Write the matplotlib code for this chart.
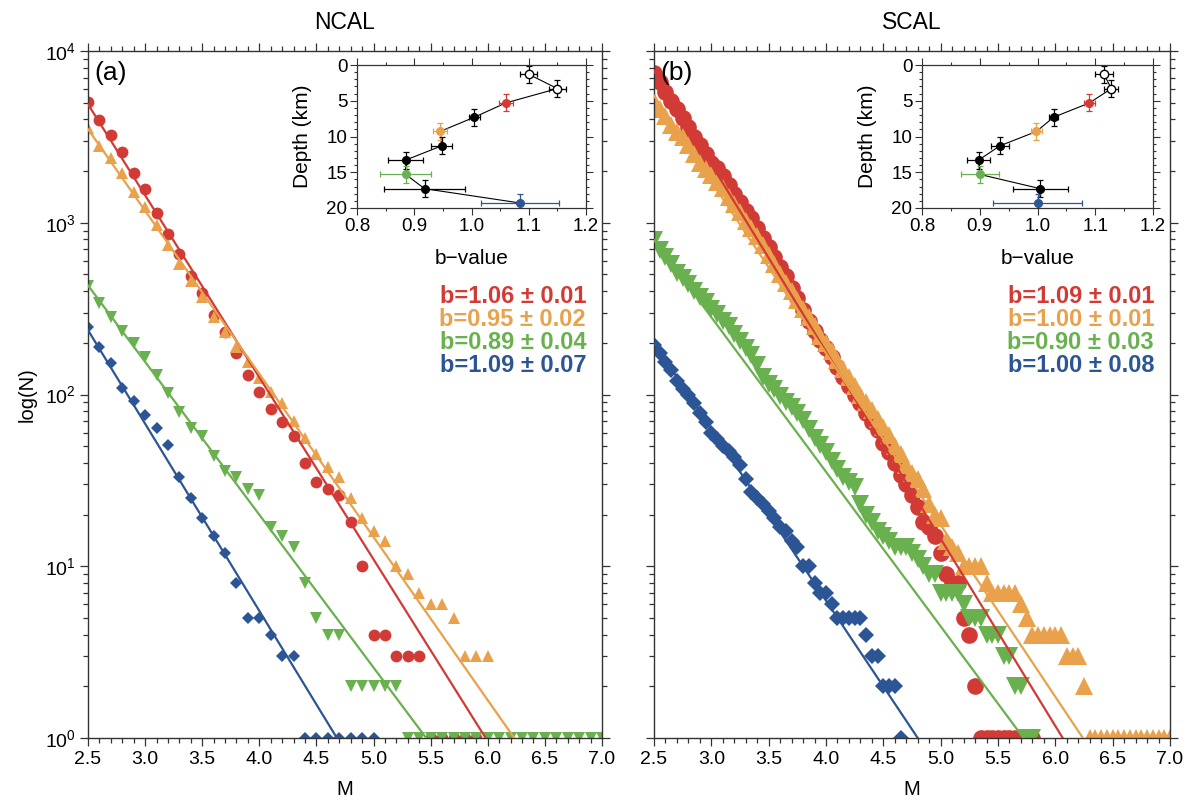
import matplotlib.pyplot as plt
import numpy as np
from matplotlib.ticker import MultipleLocator, LogLocator, NullFormatter

plt.rcParams["font.family"] = ["Liberation Sans", "DejaVu Sans"]
plt.rcParams["mathtext.default"] = "regular"

RED = "#d23a35"
ORANGE = "#e9a14b"
GREEN = "#69b04f"
BLUE = "#2c5596"

colors = [RED, ORANGE, GREEN, BLUE]
markers = ["o", "^", "v", "D"]

# NCAL cumulative counts N(>=M), bins of 0.1 starting at M2.5
ncal_red = [5070, 3963, 3228, 2582, 1954, 1578, 1135, 859, 658, 490,
            388, 289, 230, 174, 130, 104, 82, 69, 57, 40,
            31, 28, 26, 18, 10, 4, 4, 3, 3, 3,
            1, 1, 1, 1, 1]
ncal_orange = [3548, 2800, 2371, 1941, 1517, 1239, 970, 741, 575, 457,
               371, 284, 232, 188, 155, 124, 104, 89, 70, 56,
               45, 38, 33, 25, 19, 16, 14, 10, 9, 7,
               6, 6, 5, 3, 3, 3, 1, 1, 1, 1]
ncal_green = [429, 342, 284, 235, 199, 166, 130, 102, 79, 64,
              57, 44, 36, 33, 28, 26, 17, 15, 13, 8,
              5, 4, 4, 2, 2, 2, 2, 2, 1, 1,
              1, 1, 1, 1, 1, 1, 1, 1, 1, 1,
              1, 1, 1, 1, 1, 1]
ncal_blue = [248, 188, 152, 109, 92, 76, 64, 51, 33, 25,
             19, 15, 12, 8, 5, 5, 4, 3, 3, 1,
             1, 1, 1, 1, 1, 1]

# SCAL cumulative counts N(>=M), bins of 0.05 starting at M2.5
scal_red = [7413, 6607, 5754, 5129, 4571, 4074, 3631, 3162, 2818, 2512,
            2239, 2089, 1862, 1660, 1479, 1318, 1175, 1072, 933, 813,
            724, 631, 550, 490, 417, 363, 309, 269, 234, 209,
            186, 166, 145, 126, 112, 100, 89, 78, 69, 62,
            52, 46, 40, 34, 30, 26, 22, 18, 17, 15,
            12, 9, 8, 8, 5, 4, 2, 1, 1, 1,
            1, 1, 1, 1, 1, 1, 1]
scal_orange = [5129, 4571, 4169, 3715, 3388, 3162, 2818, 2512, 2239, 2042,
               1905, 1738, 1585, 1413, 1288, 1148, 1023, 933, 832, 741,
               646, 575, 501, 447, 398, 355, 316, 282, 251, 219,
               200, 178, 158, 141, 126, 112, 100, 91, 81, 72,
               65, 58, 50, 45, 39, 35, 32, 28, 23, 20,
               19, 14, 13, 12, 10, 10, 10, 10, 8, 7,
               7, 7, 7, 7, 6, 5, 4, 4, 4, 4,
               4, 4, 3, 3, 3, 2, 1, 1, 1, 1,
               1, 1, 1, 1, 1, 1, 1, 1, 1, 1, 1]
scal_green = [794, 692, 631, 575, 513, 479, 437, 398, 372, 347,
              316, 295, 269, 251, 224, 204, 186, 170, 148, 126,
              115, 107, 98, 91, 85, 78, 71, 63, 56, 51,
              46, 41, 37, 33, 31, 29, 23, 20, 18, 16,
              15, 14, 13, 13, 13, 12, 11, 10, 9, 9,
              7, 7, 7, 7, 6, 5, 5, 5, 4, 4,
              4, 3, 3, 2, 2, 1, 1]
scal_blue = [195, 174, 155, 138, 120, 107, 100, 89, 78, 69,
             60, 55, 50, 47, 43, 39, 32, 27, 25, 23,
             21, 19, 17, 16, 14, 13, 10, 10, 8, 7,
             7, 6, 5, 5, 5, 5, 5, 4, 3, 3,
             2, 2, 2, 1]

# Gutenberg-Richter fits: log10 N = a - b M
ncal_a = [6.34, 5.92, 4.86, 5.10]
ncal_b = [1.06, 0.95, 0.89, 1.09]
ncal_b_err = [0.01, 0.02, 0.04, 0.07]
scal_a = [6.61, 6.24, 5.15, 4.80]
scal_b = [1.09, 1.00, 0.90, 1.00]
scal_b_err = [0.01, 0.01, 0.03, 0.08]

# b-value vs depth (insets)
depth = [1.3, 3.3, 5.3, 7.3, 9.3, 11.3, 13.3, 15.3, 17.3, 19.3]
depth_err = [1.2, 1.2, 1.2, 1.2, 1.2, 1.2, 1.2, 1.2, 1.2, 1.2]
ncal_depth_b = [1.100, 1.150, 1.060, 1.005, 0.945, 0.948, 0.885, 0.885, 0.918, 1.085]
ncal_depth_b_err = [0.015, 0.015, 0.012, 0.010, 0.012, 0.018, 0.030, 0.045, 0.070, 0.068]
scal_depth_b = [1.115, 1.128, 1.090, 1.028, 0.998, 0.935, 0.898, 0.900, 1.005, 1.000]
scal_depth_b_err = [0.015, 0.012, 0.010, 0.008, 0.010, 0.015, 0.020, 0.033, 0.048, 0.077]
depth_colors = ["k", "k", RED, "k", ORANGE, "k", "k", GREEN, "k", BLUE]
depth_open = [True, True, False, False, False, False, False, False, False, False]

W, H = 1195, 801
fig = plt.figure(figsize=(W / 100, H / 100), dpi=100)


def add_px_axes(x0, y0, x1, y1):
    return fig.add_axes([x0 / W, 1 - y1 / H, (x1 - x0) / W, (y1 - y0) / H])


def style_main(ax, show_ylabels):
    ax.set_yscale("log")
    ax.set_xlim(2.5, 7.0)
    ax.set_ylim(1, 1e4)
    ax.xaxis.set_major_locator(MultipleLocator(0.5))
    ax.xaxis.set_minor_locator(MultipleLocator(0.1))
    ax.yaxis.set_major_locator(LogLocator(base=10, numticks=10))
    ax.yaxis.set_minor_locator(LogLocator(base=10, subs=np.arange(2, 10), numticks=20))
    ax.yaxis.set_minor_formatter(NullFormatter())
    ax.xaxis.set_major_formatter(plt.FuncFormatter(lambda v, p: f"{v:.1f}"))
    ax.tick_params(which="both", direction="out", top=True, right=True, labelsize=14,
                   color="#333333", width=0.9, pad=3)
    ax.tick_params(which="major", length=6)
    ax.tick_params(which="minor", length=3.5)
    if not show_ylabels:
        ax.tick_params(labelleft=False)
    for s in ax.spines.values():
        s.set_linewidth(1.0)
        s.set_color("#333333")
    ax.set_xlabel("M", fontsize=14.5, labelpad=9)


def draw_panel(ax, step, series, a_vals, b_vals, msizes):
    for counts, c, mk, ms in zip(series, colors, markers, msizes):
        m = 2.5 + step * np.arange(len(counts))
        ax.plot(m, counts, linestyle="none", marker=mk, color=c, ms=ms, mew=0, zorder=2)
    for a, b, c in zip(a_vals, b_vals, colors):
        m_fit = np.array([2.5, a / b])
        ax.plot(m_fit, 10 ** (a - b * m_fit), color=c, lw=1.6, zorder=3)


def draw_inset(ins, b_vals, b_errs):
    ins.plot(b_vals, depth, color="k", lw=0.8, zorder=1)
    for b, d, be, de, c, op in zip(b_vals, depth, b_errs, depth_err, depth_colors, depth_open):
        ins.errorbar(b, d, xerr=be, yerr=de, fmt="o", color=c, ecolor=c,
                     mfc="white" if op else c, mec=c, ms=6 if op else 5.5,
                     elinewidth=0.9, capsize=2.5, capthick=0.9, zorder=2)
    ins.set_xlim(0.8, 1.2)
    ins.set_ylim(20, 0)
    ins.xaxis.set_major_locator(MultipleLocator(0.1))
    ins.xaxis.set_minor_locator(MultipleLocator(0.05))
    ins.yaxis.set_major_locator(MultipleLocator(5))
    ins.yaxis.set_minor_locator(MultipleLocator(1))
    ins.xaxis.set_major_formatter(plt.FuncFormatter(lambda v, p: f"{v:.1f}"))
    ins.tick_params(which="both", direction="out", labelsize=13.5, color="#333333",
                    width=0.8, pad=2)
    ins.tick_params(which="major", length=5)
    ins.tick_params(which="minor", length=2.5)
    ins.tick_params(which="both", top=True, right=True)
    for s in ins.spines.values():
        s.set_linewidth(0.9)
        s.set_color("#333333")
    ins.set_xlabel("b\u2212value", fontsize=15, labelpad=10)
    ins.set_ylabel("Depth (km)", fontsize=15, labelpad=10)


def draw_bvalues(ax, b_vals, b_errs):
    for i, (b, e, c) in enumerate(zip(b_vals, b_errs, colors)):
        ax.text(0.969, 0.642 - i * 0.0335, f"b={b:.2f} \u00b1 {e:.2f}", color=c,
                fontsize=17, fontweight="bold", ha="right", va="center",
                transform=ax.transAxes)


ax_a = add_px_axes(88, 51, 602, 738)
ax_b = add_px_axes(654, 51, 1170, 738)

draw_panel(ax_a, 0.1, [ncal_red, ncal_orange, ncal_green, ncal_blue], ncal_a, ncal_b,
           [8.5, 9, 9, 6])
draw_panel(ax_b, 0.05, [scal_red, scal_orange, scal_green, scal_blue], scal_a, scal_b,
           [12, 12.5, 12.5, 8.5])

style_main(ax_a, True)
style_main(ax_b, False)
ax_a.set_ylabel("log(N)", fontsize=14.5, labelpad=6)
ax_a.set_title("NCAL", fontsize=16.5, pad=16)
ax_b.set_title("SCAL", fontsize=16.5, pad=16)
ax_a.text(0.012, 0.968, "(a)", transform=ax_a.transAxes, fontsize=19, va="center", ha="left")
ax_b.text(0.012, 0.968, "(b)", transform=ax_b.transAxes, fontsize=19, va="center", ha="left")

draw_bvalues(ax_a, ncal_b, ncal_b_err)
draw_bvalues(ax_b, scal_b, scal_b_err)

ins_a = add_px_axes(357, 65, 586, 208)
ins_b = add_px_axes(922, 65, 1153, 208)
draw_inset(ins_a, ncal_depth_b, ncal_depth_b_err)
draw_inset(ins_b, scal_depth_b, scal_depth_b_err)

fig.savefig("out.png", dpi=100)
